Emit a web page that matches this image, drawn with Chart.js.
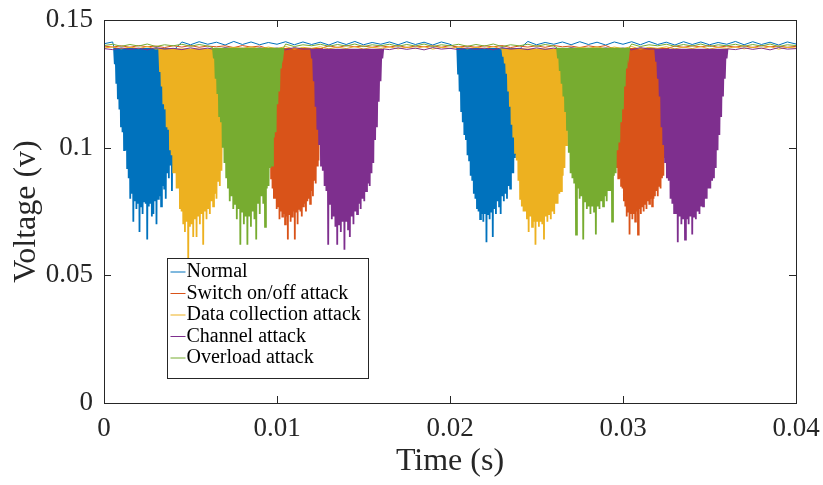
<!DOCTYPE html>
<html>
<head>
<meta charset="utf-8">
<script src="https://cdn.jsdelivr.net/npm/chart.js@4.4.1/dist/chart.umd.min.js"></script>
<style>
    html, body { margin: 0; padding: 0; background: #fff; }
    #wrap { width: 823px; height: 485px; position: relative; }
</style>
</head>
<body>
<div id="wrap"><canvas id="voltageChart"></canvas></div>
<script>
// ==================== DATA ====================

const seriesNames = ['Normal', 'Switch on/off attack', 'Data collection attack', 'Channel attack', 'Overload attack'];
const xTicks = [0, 0.01, 0.02, 0.03, 0.04];
const yTicks = [0, 0.05, 0.1, 0.15];

// steady-state ripple, sampled every 0.5 ms from 0 to 40 ms
const rippleStep = 0.0005;
const normalRipple = [
    0.1407, 0.1414, 0.1403, 0.1415, 0.1404, 0.1413, 0.1402, 0.1416, 0.1404, 0.1414,
    0.1403, 0.1415, 0.1405, 0.1413, 0.1402, 0.1416, 0.1404, 0.1414, 0.1403, 0.1412,
    0.1405, 0.1415, 0.1403, 0.1414, 0.1404, 0.1413, 0.1402, 0.1415, 0.1404, 0.1416,
    0.1403, 0.1412, 0.1405, 0.1414, 0.1403, 0.1415, 0.1404, 0.1413, 0.1402, 0.1414,
    0.1405, 0.1416, 0.1403, 0.1414, 0.1404, 0.1413, 0.1402, 0.1415, 0.1404, 0.1416,
    0.1403, 0.1412, 0.1405, 0.1414, 0.1403, 0.1415, 0.1404, 0.1413, 0.1402, 0.1414,
    0.1405, 0.1415, 0.1403, 0.1416, 0.1404, 0.1413, 0.1402, 0.1415, 0.1404, 0.1414,
    0.1403, 0.1412, 0.1405, 0.1416, 0.1403, 0.1415, 0.1404, 0.1413, 0.1402, 0.1414,
    0.1406
];
const switchRipple = [
    0.1398, 0.1394, 0.1399, 0.1393, 0.1400, 0.1395, 0.1398, 0.1392, 0.1399, 0.1394,
    0.1400, 0.1393, 0.1398, 0.1395, 0.1399, 0.1392, 0.1400, 0.1394, 0.1398, 0.1393,
    0.1399, 0.1395, 0.1400, 0.1393, 0.1398, 0.1394, 0.1399, 0.1392, 0.1400, 0.1395,
    0.1398, 0.1393, 0.1399, 0.1394, 0.1400, 0.1392, 0.1398, 0.1395, 0.1399, 0.1393,
    0.1400, 0.1394, 0.1398, 0.1393, 0.1399, 0.1395, 0.1400, 0.1392, 0.1398, 0.1394,
    0.1399, 0.1393, 0.1400, 0.1395, 0.1398, 0.1392, 0.1399, 0.1394, 0.1400, 0.1393,
    0.1398, 0.1395, 0.1399, 0.1392, 0.1400, 0.1394, 0.1398, 0.1393, 0.1399, 0.1395,
    0.1400, 0.1393, 0.1398, 0.1394, 0.1399, 0.1392, 0.1400, 0.1395, 0.1398, 0.1393,
    0.1397
];
const dataRipple = [
    0.1390, 0.1395, 0.1387, 0.1394, 0.1388, 0.1396, 0.1386, 0.1393, 0.1389, 0.1395,
    0.1387, 0.1394, 0.1388, 0.1396, 0.1386, 0.1393, 0.1389, 0.1395, 0.1387, 0.1394,
    0.1388, 0.1396, 0.1386, 0.1393, 0.1389, 0.1395, 0.1387, 0.1394, 0.1388, 0.1396,
    0.1386, 0.1393, 0.1389, 0.1395, 0.1387, 0.1394, 0.1388, 0.1396, 0.1386, 0.1393,
    0.1389, 0.1395, 0.1387, 0.1394, 0.1388, 0.1396, 0.1386, 0.1393, 0.1389, 0.1395,
    0.1387, 0.1394, 0.1388, 0.1396, 0.1386, 0.1393, 0.1389, 0.1395, 0.1387, 0.1394,
    0.1388, 0.1396, 0.1386, 0.1393, 0.1389, 0.1395, 0.1387, 0.1394, 0.1388, 0.1396,
    0.1386, 0.1393, 0.1389, 0.1395, 0.1387, 0.1394, 0.1388, 0.1396, 0.1386, 0.1393,
    0.1390
];
const channelRipple = [
    0.1388, 0.1384, 0.1391, 0.1385, 0.1390, 0.1383, 0.1392, 0.1386, 0.1389, 0.1384,
    0.1391, 0.1385, 0.1390, 0.1383, 0.1392, 0.1386, 0.1389, 0.1384, 0.1391, 0.1385,
    0.1390, 0.1383, 0.1392, 0.1386, 0.1389, 0.1384, 0.1391, 0.1385, 0.1390, 0.1383,
    0.1392, 0.1386, 0.1389, 0.1384, 0.1391, 0.1385, 0.1390, 0.1383, 0.1392, 0.1386,
    0.1389, 0.1384, 0.1391, 0.1385, 0.1390, 0.1383, 0.1392, 0.1386, 0.1389, 0.1384,
    0.1391, 0.1385, 0.1390, 0.1383, 0.1392, 0.1386, 0.1389, 0.1384, 0.1391, 0.1385,
    0.1390, 0.1383, 0.1392, 0.1386, 0.1389, 0.1384, 0.1391, 0.1385, 0.1390, 0.1383,
    0.1392, 0.1386, 0.1389, 0.1384, 0.1391, 0.1385, 0.1390, 0.1383, 0.1392, 0.1386,
    0.1388
];
const overloadRipple = [
    0.1400, 0.1405, 0.1397, 0.1404, 0.1398, 0.1406, 0.1396, 0.1403, 0.1399, 0.1405,
    0.1397, 0.1404, 0.1398, 0.1406, 0.1396, 0.1403, 0.1399, 0.1405, 0.1397, 0.1404,
    0.1398, 0.1406, 0.1396, 0.1403, 0.1399, 0.1405, 0.1397, 0.1404, 0.1398, 0.1406,
    0.1396, 0.1403, 0.1399, 0.1405, 0.1397, 0.1404, 0.1398, 0.1406, 0.1396, 0.1403,
    0.1399, 0.1405, 0.1397, 0.1404, 0.1398, 0.1406, 0.1396, 0.1403, 0.1399, 0.1405,
    0.1397, 0.1404, 0.1398, 0.1406, 0.1396, 0.1403, 0.1399, 0.1405, 0.1397, 0.1404,
    0.1398, 0.1406, 0.1396, 0.1403, 0.1399, 0.1405, 0.1397, 0.1404, 0.1398, 0.1406,
    0.1396, 0.1403, 0.1399, 0.1405, 0.1397, 0.1404, 0.1398, 0.1406, 0.1396, 0.1403,
    0.1400
];

// level the signal returns to between dips inside a burst
const burstTop = [0.1390, 0.1390, 0.1388, 0.1387, 0.1391];

// burst windows [start, end] in seconds, one pair per cycle
const normalBursts   = [[0.00058, 0.00415], [0.02042, 0.02407]];
const switchBursts   = [[0.00938, 0.01260], [0.02936, 0.03262]];
const dataBursts     = [[0.00319, 0.00703], [0.02302, 0.02696]];
const channelBursts  = [[0.01197, 0.01614], [0.03186, 0.03604]];
const overloadBursts = [[0.00630, 0.01038], [0.02619, 0.03036]];

const normalDips1 = [
    0.1327, 0.1250, 0.1190, 0.1150, 0.1080, 0.1060, 0.0990, 0.0990, 0.0920, 0.0880,
    0.0800, 0.0820, 0.0710, 0.0790, 0.0760, 0.0780, 0.0670, 0.0770, 0.0740, 0.0790,
    0.0780, 0.0640, 0.0770, 0.0780, 0.0730, 0.0740, 0.0790, 0.0700, 0.0800, 0.0810,
    0.0770, 0.0850, 0.0840, 0.0800, 0.0900, 0.0880, 0.0930, 0.0830, 0.0930, 0.1030
];
const normalDips2 = [
    0.1290, 0.1220, 0.1140, 0.1100, 0.1050, 0.1030, 0.0970, 0.0950, 0.0890, 0.0870,
    0.0820, 0.0800, 0.0760, 0.0750, 0.0720, 0.0740, 0.0710, 0.0740, 0.0630, 0.0740,
    0.0720, 0.0750, 0.0650, 0.0760, 0.0740, 0.0790, 0.0770, 0.0740, 0.0810, 0.0790,
    0.0820, 0.0800, 0.0850, 0.0840, 0.0900, 0.0900, 0.0960, 0.0970, 0.1070, 0.1160
];
const switchDips1 = [
    0.1200, 0.1070, 0.0960, 0.0880, 0.0840, 0.0800, 0.0800, 0.0760, 0.0770, 0.0720,
    0.0750, 0.0730, 0.0740, 0.0700, 0.0730, 0.0640, 0.0740, 0.0710, 0.0730, 0.0750,
    0.0640, 0.0750, 0.0700, 0.0760, 0.0750, 0.0730, 0.0770, 0.0780, 0.0750, 0.0790,
    0.0800, 0.0780, 0.0830, 0.0810, 0.0870, 0.0860, 0.0930, 0.0950, 0.1040, 0.1130
];
const switchDips2 = [
    0.1200, 0.1070, 0.0970, 0.0920, 0.0880, 0.0880, 0.0850, 0.0840, 0.0790, 0.0770,
    0.0730, 0.0750, 0.0660, 0.0740, 0.0720, 0.0740, 0.0710, 0.0750, 0.0660, 0.0760,
    0.0740, 0.0770, 0.0750, 0.0780, 0.0760, 0.0790, 0.0780, 0.0800, 0.0770, 0.0800,
    0.0810, 0.0830, 0.0810, 0.0850, 0.0840, 0.0880, 0.0890, 0.0960, 0.1040, 0.1140
];
const dataDips1 = [
    0.1300, 0.1240, 0.1170, 0.1150, 0.1080, 0.1070, 0.0990, 0.0970, 0.0900, 0.0900,
    0.0840, 0.0840, 0.0760, 0.0750, 0.0700, 0.0670, 0.0710, 0.0560, 0.0690, 0.0700,
    0.0650, 0.0720, 0.0650, 0.0730, 0.0700, 0.0740, 0.0620, 0.0750, 0.0720, 0.0760,
    0.0740, 0.0790, 0.0770, 0.0820, 0.0800, 0.0870, 0.0850, 0.0910, 0.1030, 0.1200
];
const dataDips2 = [
    0.1360, 0.1330, 0.1290, 0.1220, 0.1160, 0.1090, 0.1040, 0.0980, 0.0950, 0.0870,
    0.0800, 0.0770, 0.0750, 0.0750, 0.0720, 0.0670, 0.0730, 0.0690, 0.0710, 0.0620,
    0.0710, 0.0690, 0.0710, 0.0700, 0.0640, 0.0730, 0.0710, 0.0740, 0.0720, 0.0750,
    0.0740, 0.0780, 0.0780, 0.0820, 0.0830, 0.0890, 0.0920, 0.1010, 0.1110, 0.1220
];
const channelDips1 = [
    0.1350, 0.1260, 0.1160, 0.1070, 0.1010, 0.0930, 0.0910, 0.0850, 0.0830, 0.0620,
    0.0780, 0.0720, 0.0730, 0.0690, 0.0620, 0.0700, 0.0670, 0.0710, 0.0600, 0.0710,
    0.0680, 0.0650, 0.0730, 0.0700, 0.0750, 0.0740, 0.0780, 0.0760, 0.0800, 0.0790,
    0.0830, 0.0860, 0.0850, 0.0900, 0.0940, 0.1030, 0.1080, 0.1180, 0.1260, 0.1350
];
const channelDips2 = [
    0.1340, 0.1270, 0.1200, 0.1080, 0.1010, 0.0940, 0.0880, 0.0870, 0.0800, 0.0780,
    0.0740, 0.0740, 0.0630, 0.0730, 0.0700, 0.0720, 0.0640, 0.0720, 0.0700, 0.0730,
    0.0660, 0.0730, 0.0720, 0.0750, 0.0740, 0.0770, 0.0770, 0.0800, 0.0800, 0.0840,
    0.0840, 0.0870, 0.0880, 0.0920, 0.0990, 0.1050, 0.1120, 0.1200, 0.1270, 0.1350
];
const overloadDips1 = [
    0.1350, 0.1270, 0.1210, 0.1120, 0.1100, 0.1000, 0.0940, 0.0880, 0.0840, 0.0790,
    0.0810, 0.0760, 0.0780, 0.0720, 0.0760, 0.0620, 0.0750, 0.0700, 0.0730, 0.0620,
    0.0730, 0.0690, 0.0750, 0.0720, 0.0640, 0.0780, 0.0740, 0.0810, 0.0780, 0.0690,
    0.0840, 0.0850, 0.0920, 0.0930, 0.1040, 0.1060, 0.1170, 0.1220, 0.1310, 0.1360
];
const overloadDips2 = [
    0.1350, 0.1300, 0.1250, 0.1200, 0.1140, 0.1070, 0.0980, 0.0900, 0.0880, 0.0860,
    0.0660, 0.0840, 0.0800, 0.0810, 0.0640, 0.0790, 0.0760, 0.0770, 0.0740, 0.0770,
    0.0750, 0.0660, 0.0770, 0.0760, 0.0790, 0.0770, 0.0810, 0.0790, 0.0830, 0.0830,
    0.0710, 0.0890, 0.0900, 0.0990, 0.1020, 0.1100, 0.1150, 0.1240, 0.1310, 0.1360
];

const seriesColors = ['#0072BD', '#D95319', '#EDB120', '#7E2F8E', '#77AC30'];

// ==================== CHART ====================

const serif = "'Liberation Serif', 'Times New Roman', serif";
const axisColor = '#262626';

// ripple outside the bursts, spikes (top -> dip -> top) inside them
function buildSeries(ripple, top, bursts, dipSets) {
    const points = [];
    ripple.forEach((v, i) => {
        const t = i * rippleStep;
        const inBurst = bursts.some(b => t >= b[0] && t <= b[1]);
        if (!inBurst) points.push({ x: t, y: v });
    });
    bursts.forEach((b, k) => {
        const dips = dipSets[k];
        const w = (b[1] - b[0]) / dips.length;
        dips.forEach((v, i) => {
            points.push({ x: b[0] + i * w, y: top });
            points.push({ x: b[0] + (i + 0.5) * w, y: v });
        });
        points.push({ x: b[1], y: top });
    });
    return points.sort((a, b) => a.x - b.x);
}

const seriesData = [
    buildSeries(normalRipple, burstTop[0], normalBursts, [normalDips1, normalDips2]),
    buildSeries(switchRipple, burstTop[1], switchBursts, [switchDips1, switchDips2]),
    buildSeries(dataRipple, burstTop[2], dataBursts, [dataDips1, dataDips2]),
    buildSeries(channelRipple, burstTop[3], channelBursts, [channelDips1, channelDips2]),
    buildSeries(overloadRipple, burstTop[4], overloadBursts, [overloadDips1, overloadDips2])
];

// box frame with inward ticks on all four sides
const framePlugin = {
    id: 'matlabFrame',
    afterDatasetsDraw(chart) {
        const { ctx, chartArea: a, scales } = chart;
        const tick = 7;
        ctx.save();
        ctx.strokeStyle = axisColor;
        ctx.lineWidth = 1;
        ctx.beginPath();
        xTicks.forEach(v => {
            const px = Math.round(scales.x.getPixelForValue(v)) + 0.5;
            ctx.moveTo(px, a.bottom); ctx.lineTo(px, a.bottom - tick);
            ctx.moveTo(px, a.top); ctx.lineTo(px, a.top + tick);
        });
        yTicks.forEach(v => {
            const py = Math.round(scales.y.getPixelForValue(v)) + 0.5;
            ctx.moveTo(a.left, py); ctx.lineTo(a.left + tick, py);
            ctx.moveTo(a.right, py); ctx.lineTo(a.right - tick, py);
        });
        ctx.stroke();
        ctx.strokeRect(Math.round(a.left) + 0.5, Math.round(a.top) + 0.5,
            Math.round(a.right - a.left), Math.round(a.bottom - a.top));
        ctx.restore();
    }
};

// legend box inside the axes, lower left
const legendPlugin = {
    id: 'insideLegend',
    afterDraw(chart) {
        const { ctx, chartArea: a } = chart;
        const left = Math.round(a.left) + 63.5;
        const top = Math.round(a.top) + 238.5;
        const w = 201, h = 120;
        ctx.save();
        ctx.fillStyle = '#fff';
        ctx.fillRect(left, top, w, h);
        ctx.strokeStyle = axisColor;
        ctx.lineWidth = 1;
        ctx.strokeRect(left, top, w, h);
        ctx.font = `20px ${serif}`;
        ctx.textBaseline = 'middle';
        seriesNames.forEach((name, i) => {
            const y = top + 13.5 + i * 21.5;
            ctx.strokeStyle = seriesColors[i];
            ctx.beginPath();
            ctx.moveTo(left + 3, y);
            ctx.lineTo(left + 18, y);
            ctx.stroke();
            ctx.fillStyle = '#000';
            ctx.fillText(name, left + 19, y);
        });
        ctx.restore();
    }
};

// spike segments drawn a bit heavier so a burst reads as a filled band
const spikeWidth = c => (c.p0.parsed.y < 0.1375 || c.p1.parsed.y < 0.1375) ? 1.8 : 1;

new Chart(document.getElementById('voltageChart'), {
    type: 'line',
    data: {
        datasets: seriesNames.map((name, i) => ({
            label: name,
            data: seriesData[i],
            borderColor: seriesColors[i],
            backgroundColor: seriesColors[i],
            borderWidth: 1,
            segment: { borderWidth: spikeWidth },
            pointRadius: 0,
            tension: 0,
            fill: false,
            order: seriesNames.length - i  // later series drawn on top
        }))
    },
    options: {
        responsive: true,
        maintainAspectRatio: false,
        animation: false,
        layout: { padding: { top: 20, right: 27, bottom: 0, left: 0 } },
        plugins: { legend: { display: false }, tooltip: { enabled: false } },
        scales: {
            x: {
                type: 'linear',
                min: 0,
                max: 0.04,
                afterBuildTicks: s => { s.ticks = xTicks.map(v => ({ value: v })); },
                afterFit: s => { s.height = 82; s.paddingLeft = 0; s.paddingRight = 0; },
                grid: { display: false, drawTicks: false },
                border: { display: false },
                ticks: { color: axisColor, font: { family: serif, size: 27 }, padding: 10, maxRotation: 0, callback: v => String(v) },
                title: { display: true, text: 'Time (s)', color: axisColor, font: { family: serif, size: 32 }, padding: { top: 0, bottom: 4 } }
            },
            y: {
                min: 0,
                max: 0.15,
                afterBuildTicks: s => { s.ticks = yTicks.map(v => ({ value: v })); },
                afterFit: s => { s.width = 104; s.paddingTop = 0; s.paddingBottom = 0; },
                grid: { display: false, drawTicks: false },
                border: { display: false },
                ticks: { color: axisColor, font: { family: serif, size: 27 }, padding: 11, callback: v => String(v) },
                title: { display: true, text: 'Voltage (v)', color: axisColor, font: { family: serif, size: 32 }, padding: { top: 7, bottom: 0 } }
            }
        }
    },
    plugins: [framePlugin, legendPlugin]
});
</script>
</body>
</html>
